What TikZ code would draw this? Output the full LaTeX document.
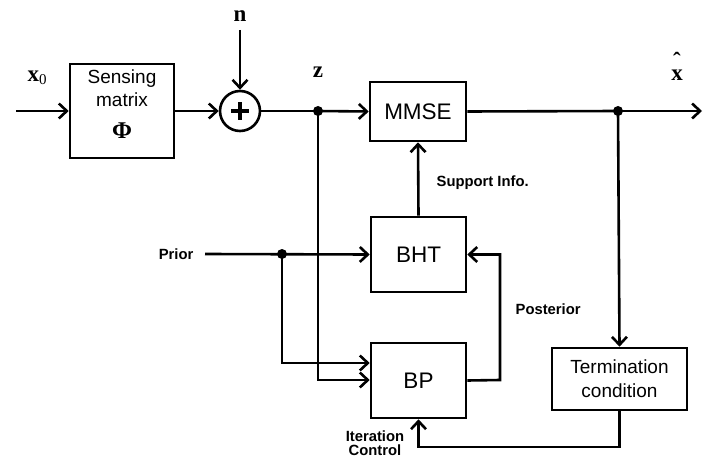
\documentclass[tikz,border=0pt]{standalone}
\usepackage{fontspec}
\setmainfont{Liberation Sans}
\newfontfamily\serifl{Liberation Serif}
\usetikzlibrary{arrows.meta}
\begin{document}
\begin{tikzpicture}[x=1pt,y=-1pt,
  line width=2.6pt,
  arr/.style={-{Straight Barb[length=8pt,width=15pt,line width=2.6pt]}},
  blk/.style={draw,line width=2.6pt,inner sep=0pt,align=center},
  bigtxt/.style={font=\fontsize{22.5}{24}\selectfont},
  midtxt/.style={font=\fontsize{19}{24}\selectfont},
  lab/.style={font=\fontsize{14.8}{17}\selectfont\bfseries},
  mlab/.style={font=\fontsize{23}{24}\selectfont\serifl\bfseries},
  dot/.style={circle,fill,inner sep=0pt,minimum size=10pt}]
\useasboundingbox (0,0) rectangle (709,473);
% blocks
\node[blk,midtxt,minimum width=104pt,minimum height=94pt] (S) at (122,111) {Sensing\\[-1pt]matrix\\[8pt]{\fontsize{24}{24}\selectfont\serifl\bfseries Φ}\\[-17pt]\strut};
\node[draw,circle,line width=2.6pt,minimum size=40pt,inner sep=0pt] (sum) at (240,111) {};
\draw[line width=3.2pt] ([xshift=-9pt]sum.center) -- ([xshift=9pt]sum.center);
\draw[line width=3.2pt] ([yshift=-9pt]sum.center) -- ([yshift=9pt]sum.center);
\node[blk,bigtxt,minimum width=96pt,minimum height=59pt] (M) at (418,111.5) {MMSE};
\node[blk,bigtxt,minimum width=95pt,minimum height=75pt] (B) at (418.5,254.5) {BHT};
\node[blk,bigtxt,minimum width=95pt,minimum height=75pt] (P) at (418.5,380.5) {BP};
\node[blk,midtxt,minimum width=135pt,minimum height=62pt] (T) at (619.5,379) {Termination\\condition};
% dots and coordinates
\node[dot] (zd) at (318,111) {};
\node[dot] (od) at (618,111) {};
\node[dot] (pd) at (282,254) {};
\coordinate (in) at (16,111);
\coordinate (nin) at (240,30);
\coordinate (out) at (702,111);
\coordinate (prior) at (205,254);
\coordinate (pc) at (282,363);
\coordinate (zc) at (318,380);
\coordinate (post) at (500,380);
\coordinate (tb) at (619.5,447);
% labels
\node[mlab] (lx0) at (37,78) {x\raisebox{-3pt}{\mdseries\fontsize{15}{15}\selectfont 0}};
\node[mlab] (ln) at (240,16) {n};
\node[mlab] (lz) at (318,72) {z};
\node[mlab,align=center] (lxh) at (677,66) {ˆ\\[-12pt]x};
\node[lab,anchor=east] (lprior) at (198,254) {Prior};
\node[lab,anchor=west] (lsup) at (432,183) {Support Info.};
\node[lab,anchor=west] (lpost) at (511,309) {Posterior};
\node[lab,align=center] (lit) at (375,443) {Iteration\\[-3pt]Control};
% connectors
\draw[arr] (in) -- (S.west);
\draw[arr] (S.east) -- (sum.west);
\draw[arr] (nin) -- (sum.north);
\draw (sum.east) -- (zd.center);
\draw[arr] (zd.center) -- (M.west);
\draw (M.east) -- (od.center);
\draw[arr] (od.center) -- (out);
\draw[arr] (B.north) -- (M.south);
\draw[arr] (prior) -- (B.west);
\draw[arr] (pd.center) -- (pc) -- (pc -| P.west);
\draw[arr] (zd.center) -- (zc) -- (zc -| P.west);
\draw[arr] (P.east) -- (post) -- (post |- B.east) -- (B.east);
\draw[arr] (od.center) -- (T.north);
\draw[arr] (T.south) -- (tb) -- (tb -| P.south) -- (P.south);
\end{tikzpicture}
\end{document}
